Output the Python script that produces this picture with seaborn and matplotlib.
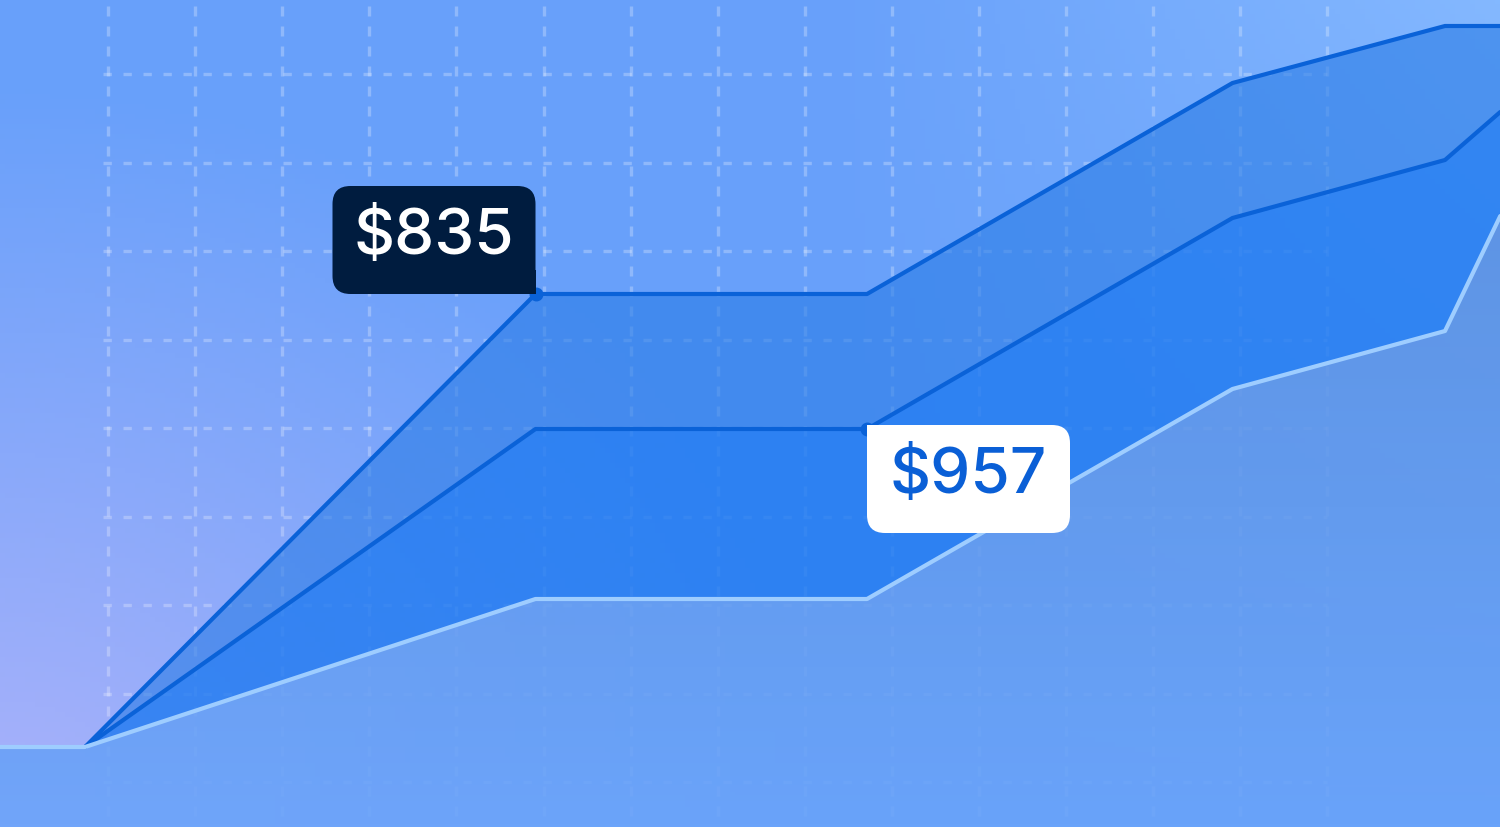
import numpy as np
import matplotlib
matplotlib.use("Agg")
import matplotlib.pyplot as plt
import matplotlib.transforms as mtransforms
from matplotlib.patches import FancyBboxPatch, Rectangle
import seaborn as sns
import pandas as pd

# data (x in time steps, y in value units above baseline)
steps = [0, 1, 6.3, 10.2, 14.5, 17.0, 17.65]
top_series = [0, 0, 453, 453, 664, 721, 721]
mid_series = [0, 0, 318, 318, 529, 587, 635]
low_series = [0, 0, 148, 148, 358, 416, 531]
label_top = "$835"
label_mid = "$957"

W, H = 1500, 828
sns.set_style("white")
plt.rcParams['font.family'] = ['Inter', 'DejaVu Sans']

fig = plt.figure(figsize=(W / 100, H / 100), dpi=100)
ax = fig.add_axes([0, 0, 1, 1])
x_max = W / 85
y_min, y_max = -80, 748


def hexrgb(h):
    return np.array([int(h[i:i + 2], 16) for i in (1, 3, 5)]) / 255


# background gradient
u = np.linspace(0, 1, 300)[None, :]
v = np.linspace(1, 0, 166)[:, None]   # v=1 top
base = hexrgb('#68a0fa')
lav = hexrgb('#aab2fa')
light = hexrgb('#84b8ff')
d = np.sqrt((u / 0.55) ** 2 + (v / 0.9) ** 2)
w_lav = np.clip(1 - d, 0, 1)[..., None]
w_light = np.clip((u - 0.55) / 0.45, 0, 1)[..., None] * np.clip(v, 0, 1)[..., None]
img = np.clip(base * (1 - w_lav - w_light) + lav * w_lav + light * w_light, 0, 1)
ax.imshow(img, extent=[0, x_max, y_min, y_max], aspect='auto', zorder=0, origin='upper')

# dashed grid
gx = [(108 + 87.1 * i) / 85 for i in range(15)]
gy = [748 - (75 + 88.5 * j) for j in range(9)]
ax.vlines(gx, y_min + 11, y_max, colors='white', alpha=0.26, lw=2.4,
          linestyles=(0, (3, 3)), zorder=1)
ax.hlines(gy, 103 / 85, 1327 / 85, colors='white', alpha=0.26, lw=2.4,
          linestyles=(0, (2.5, 3.5)), zorder=1)

# fills
ax.fill_between(steps, mid_series, top_series, color='#2a7ce6', alpha=0.6, lw=0, zorder=2)
ax.fill_between(steps, low_series, mid_series, color='#1f7af0', alpha=0.8, lw=0, zorder=2)
low_poly = ax.fill_between(steps, y_min, low_series, color='none', lw=0, zorder=2)
t = np.linspace(0, 1, 200)[:, None]
c_top, c_bot = hexrgb('#5a90e0'), hexrgb('#6aa4fa')
grad = (c_top * (1 - t) + c_bot * t)[:, None, :].repeat(2, axis=1)
gim = ax.imshow(grad, extent=[0, x_max, y_min, 560], aspect='auto', zorder=2,
                origin='upper', alpha=0.88)
gim.set_clip_path(low_poly.get_paths()[0], transform=ax.transData)

df = pd.DataFrame({"step": steps, "top": top_series, "mid": mid_series, "low": low_series})
sns.lineplot(data=df.iloc[1:], x="step", y="top", ax=ax, color='#0a62d8', lw=3, zorder=4)
sns.lineplot(data=df.iloc[1:], x="step", y="mid", ax=ax, color='#0a62d8', lw=3, zorder=4)
sns.lineplot(data=df, x="step", y="low", ax=ax, color='#9ecdff', lw=3, zorder=4)
ax.set_xlim(0, x_max)
ax.set_ylim(y_min, y_max)
ax.axis('off')

ax.plot([steps[2]], [top_series[2]], 'o', color='#0a62d8', ms=9, zorder=5)
ax.plot([steps[3]], [mid_series[3]], 'o', color='#0a62d8', ms=9, zorder=5)

ident = mtransforms.IdentityTransform()


def tooltip(px, py, text, side, face, tc):
    bw, bh, r = 203, 108, 18
    if side == 'upleft':
        x0, y0 = px - bw, py
        cx0, cy0 = px - 24, py
    else:
        x0, y0 = px, py - bh + 4
        cx0, cy0 = px, py - 20
    box = FancyBboxPatch((x0 + r, y0 + r), bw - 2 * r, bh - 2 * r,
                         boxstyle=f"round,pad={r},rounding_size={r}",
                         transform=ident, facecolor=face, edgecolor='none', zorder=6)
    fig.add_artist(box)
    fig.add_artist(Rectangle((cx0, cy0), 24, 24, transform=ident,
                             facecolor=face, edgecolor='none', zorder=6))
    fig.text((x0 + bw / 2) / W, (y0 + bh / 2 + 4) / H, text, ha='center', va='center',
             color=tc, fontsize=46, fontweight='medium', zorder=7)


fig.canvas.draw()
p1 = ax.transData.transform((steps[2], top_series[2]))
p2 = ax.transData.transform((steps[3], mid_series[3]))
tooltip(p1[0], p1[1], label_top, 'upleft', '#001c3f', 'white')
tooltip(p2[0], p2[1], label_mid, 'downright', 'white', '#0a5fd6')

fig.savefig("out.png", dpi=100)
